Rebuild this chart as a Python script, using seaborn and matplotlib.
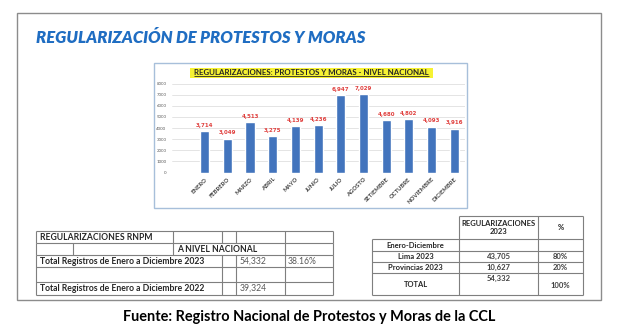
import matplotlib
matplotlib.use("Agg")
import matplotlib.pyplot as plt
import seaborn as sns
import pandas as pd
from matplotlib.patches import Rectangle

# ---------------- data ----------------
meses = ["ENERO", "FEBRERO", "MARZO", "ABRIL", "MAYO", "JUNIO", "JULIO",
         "AGOSTO", "SETIEMBRE", "OCTUBRE", "NOVIEMBRE", "DICIEMBRE"]
valores = [3714, 3049, 4513, 3275, 4139, 4236, 6947, 7029, 4680, 4802, 4093, 3916]
y_ticks = [0, 1000, 2000, 3000, 4000, 5000, 6000, 7000, 8000]

titulo = "REGULARIZACIÓN DE PROTESTOS Y MORAS"
titulo_grafico = "REGULARIZACIONES: PROTESTOS Y MORAS - NIVEL NACIONAL"
fuente = "Fuente: Registro Nacional de Protestos y Moras de la CCL"

tabla_izq_titulo = "REGULARIZACIONES RNPM"
tabla_izq_sub = "A NIVEL NACIONAL"
tabla_izq_etiquetas = ["Total Registros de Enero a Diciembre 2023",
                       "Total Registros de Enero a Diciembre 2022"]
tabla_izq_valores = ["54,332", "39,324"]
tabla_izq_pct = ["38.16%", ""]

tabla_der_header = ["REGULARIZACIONES\n2023", "%"]
tabla_der_periodo = "Enero-Diciembre"
tabla_der_filas = ["Lima 2023", "Provincias 2023", "TOTAL"]
tabla_der_valores = ["43,705", "10,627", "54,332"]
tabla_der_pct = ["80%", "20%", "100%"]

# ---------------- style ----------------
sns.set_theme(style="white")
plt.rcParams["font.family"] = ["Lato", "DejaVu Sans"]

W, H = 620, 329
fig = plt.figure(figsize=(6.2, 3.29), dpi=100)
fig.patch.set_facecolor("white")

bg = fig.add_axes([0, 0, 1, 1], zorder=0)
bg.set_xlim(0, W)
bg.set_ylim(H, 0)
bg.axis("off")

renderer = fig.canvas.get_renderer()


def fit(t, width):
    bb = t.get_window_extent(renderer)
    t.set_fontsize(t.get_fontsize() * width / bb.width)
    return t


LC = "#7F7F7F"


def hline(x0, x1, y, color=LC, lw=0.8):
    bg.plot([x0, x1], [y, y], color=color, lw=lw, solid_capstyle="butt")


def vline(x, y0, y1, color=LC, lw=0.8):
    bg.plot([x, x], [y0, y1], color=color, lw=lw, solid_capstyle="butt")


# outer frame
bg.add_patch(Rectangle((17, 13), 601 - 17, 300 - 13, fill=False,
                       edgecolor="#8C8C8C", lw=1.0))

# main title
t = bg.text(36, 38, titulo, ha="left", va="center", fontsize=14,
            fontweight="heavy", fontstyle="italic", color="#1F6DC2")
fit(t, 330)

# chart box
bg.add_patch(Rectangle((154, 63), 467 - 154, 208 - 63, facecolor="white",
                       edgecolor="#A7BFDA", lw=1.0))
# chart title with highlight
bg.add_patch(Rectangle((190, 67.5), 433 - 190, 10, facecolor="#F6F233",
                       edgecolor="none"))
ct = bg.text(311.5, 72.3, titulo_grafico, ha="center", va="center", fontsize=6,
             fontweight="bold", color="#262626")
fit(ct, 238)
bb = ct.get_window_extent(renderer)
hline(bb.x0, bb.x1, H - bb.y0 + 0.6, color="#262626", lw=0.6)

# ---------------- bar chart ----------------
ax = fig.add_axes([172 / W, 1 - 172.5 / H, (465 - 172) / W, (172.5 - 83.5) / H],
                  zorder=2)
ax.patch.set_alpha(0)
df = pd.DataFrame({"mes": meses, "valor": valores})
sns.barplot(data=df, x="mes", y="valor", color="#4274BD", saturation=1,
            width=0.4, ax=ax, zorder=3)
ax.set_ylim(0, 8000)
ax.set_yticks(y_ticks)
ax.set_yticklabels([str(v) for v in y_ticks], fontsize=3.2, color="#595959")
ax.set_xlim(-1.44, 11.48)
ax.grid(axis="y", color="#D9D9D9", lw=0.5)
ax.grid(axis="x", visible=False)
ax.set_axisbelow(True)
for s in ax.spines.values():
    s.set_visible(False)
ax.tick_params(axis="both", length=0)
ax.tick_params(axis="y", pad=4)
ax.tick_params(axis="x", pad=3)
ax.set_xticks(range(len(meses)))
ax.set_xticklabels(meses, rotation=45, ha="right", rotation_mode="anchor",
                   fontsize=4.2, color="#404040", fontweight="bold")
ax.set_xlabel("")
ax.set_ylabel("")
ax.bar_label(ax.containers[0], labels=[f"{v:,}" for v in valores], padding=2.5,
             fontsize=4.0, color="#E0413F", fontweight="bold",
             family=["DejaVu Sans"])

# ---------------- left table ----------------
rows = [231, 243, 255, 267, 282, 295]
xl, xr = 36, 333
for y in rows:
    hline(xl, xr, y)
# row 1
for x in [36, 173, 222, 236, 285, 333]:
    vline(x, rows[0], rows[1])
# row 2
for x in [36, 73, 173, 285, 333]:
    vline(x, rows[1], rows[2])
# rows 3-5
for x in [36, 222, 236, 285, 333]:
    vline(x, rows[2], rows[5])

ref = bg.text(40, (rows[2] + rows[3]) / 2, tabla_izq_etiquetas[0], ha="left",
              va="center", fontsize=6, fontweight="bold", color="#262626")
fit(ref, 166)
fs_l = ref.get_fontsize()
bg.text(40, (rows[0] + rows[1]) / 2, tabla_izq_titulo, ha="left", va="center",
        fontsize=fs_l, fontweight="bold", color="#262626")
bg.text(177, (rows[1] + rows[2]) / 2, tabla_izq_sub, ha="left", va="center",
        fontsize=fs_l, fontweight="bold", color="#262626")
bg.text(40, (rows[4] + rows[5]) / 2, tabla_izq_etiquetas[1], ha="left",
        va="center", fontsize=fs_l, fontweight="bold", color="#262626")
for (ya, yb), val, pct in zip([(rows[2], rows[3]), (rows[4], rows[5])],
                              tabla_izq_valores, tabla_izq_pct):
    bg.text(240, (ya + yb) / 2, val, ha="left", va="center", fontsize=fs_l,
            color="#595959")
    if pct:
        bg.text(288, (ya + yb) / 2, pct, ha="left", va="center", fontsize=fs_l,
                color="#595959")

# ---------------- right table ----------------
rr = [216, 239, 251, 262, 273, 295]
c0, c1, c2, c3 = 372, 459, 538, 583
hline(c1, c3, rr[0])
for y in rr[1:]:
    hline(c0, c3, y)
for x in [c1, c2, c3]:
    vline(x, rr[0], rr[5])
vline(c0, rr[1], rr[5])

rt = bg.text((c0 + c1) / 2, (rr[3] + rr[4]) / 2, tabla_der_filas[1],
             ha="center", va="center", fontsize=6, fontweight="bold",
             color="#262626")
fit(rt, 55)
fs_r = rt.get_fontsize()
bg.text((c1 + c2) / 2, (rr[0] + rr[1]) / 2, tabla_der_header[0], ha="center",
        va="center", fontsize=fs_r, fontweight="bold", color="#262626",
        linespacing=1.3)
bg.text((c2 + c3) / 2, (rr[0] + rr[1]) / 2, tabla_der_header[1], ha="center",
        va="center", fontsize=fs_r, fontweight="bold", color="#262626")
bg.text((c0 + c1) / 2, (rr[1] + rr[2]) / 2, tabla_der_periodo, ha="center",
        va="center", fontsize=fs_r, fontweight="bold", color="#262626")
ys_lbl = [(rr[2] + rr[3]) / 2, (rr[3] + rr[4]) / 2, (rr[4] + rr[5]) / 2 + 0.5]
ys_val = [(rr[2] + rr[3]) / 2, (rr[3] + rr[4]) / 2, rr[4] + 5]
for i, (lab, val, pct) in enumerate(zip(tabla_der_filas, tabla_der_valores,
                                        tabla_der_pct)):
    if i != 1:
        bg.text((c0 + c1) / 2, ys_lbl[i], lab, ha="center", va="center",
                fontsize=fs_r, fontweight="bold", color="#262626")
    bg.text((c1 + c2) / 2, ys_val[i], val, ha="center", va="center",
            fontsize=fs_r, fontweight="bold", color="#404040")
    bg.text((c2 + c3) / 2, ys_lbl[i] + (1 if i == 2 else 0), pct, ha="center",
            va="center", fontsize=fs_r, fontweight="bold", color="#404040")

# ---------------- caption ----------------
cap = bg.text(309, 317, fuente, ha="center", va="center", fontsize=11,
              fontweight="bold", color="#000000")
fit(cap, 372)

fig.savefig("out.png", dpi=100, facecolor="white")
